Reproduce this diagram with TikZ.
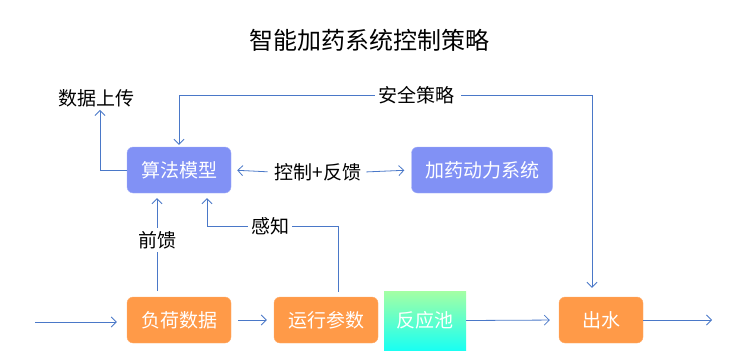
\documentclass[tikz,border=0pt]{standalone}
\usepackage{fontspec}
\setmainfont{Noto Sans CJK SC}
\usetikzlibrary{positioning,arrows.meta}
\definecolor{algoblue}{HTML}{8191F5}
\definecolor{loadorange}{HTML}{FF9A48}
\definecolor{linkblue}{HTML}{4A78C8}
\definecolor{poolgreen}{HTML}{A4FFA4}
\definecolor{poolcyan}{HTML}{1AFFF2}

\begin{document}
\begin{tikzpicture}[x=1pt,y=-1pt]
    \tikzset{
        algobox/.style={fill=algoblue, draw=algoblue!70!white, rounded corners=6pt, text=white,
            minimum height=46pt, font=\fontsize{19}{23}\selectfont},
        loadbox/.style={fill=loadorange, draw=loadorange!80!white, rounded corners=6pt, text=white,
            minimum height=46pt, font=\fontsize{19}{23}\selectfont},
        tag/.style={font=\fontsize{19}{23}\selectfont, inner sep=3pt},
        flow/.style={linkblue, thick, -{Straight Barb[length=5pt,width=10pt]}},
        plain/.style={linkblue, thick}
    }
    \useasboundingbox (0,0) rectangle (741,359);

    \node[font=\fontsize{24}{29}\selectfont] (title) at (369,40) {智能加药系统控制策略};

    % upper row
    \node[algobox, minimum width=104pt] (algo) at (179,170) {算法模型};
    \node[algobox, minimum width=141pt] (pump) at (482,170) {加药动力系统};
    \node[tag] (ctrl) at (318,172) {控制+反馈};
    \node[tag] (safe) at (416,95) {安全策略};
    \node[tag] (upload) at (96,98) {数据上传};

    % lower row
    \node[loadbox, minimum width=104pt] (load) at (179,320) {负荷数据};
    \node[loadbox, minimum width=104pt] (run) at (326,320) {运行参数};
    \node[top color=poolgreen, bottom color=poolcyan, text=white, minimum width=82pt,
        minimum height=59pt, font=\fontsize{19}{23}\selectfont] (pool) at (425,320.5) {反应池};
    \node[loadbox, minimum width=84pt] (out) at (601,320) {出水};
    \node[tag, fill=white] (ff) at (157,240) {前馈};
    \node[tag, fill=white] (sense) at (270,226) {感知};

    \coordinate (in) at (35,322);
    \coordinate (end) at (712,320);

    \draw[flow, shorten >=10pt] (in) -- (load.west |- in);
    \draw[flow, shorten <=7pt, shorten >=7pt] (load.east) -- (run.west);
    \draw[flow, shorten >=9pt] (pool.east) -- (out.west);
    \draw[flow] (out.east) -- (end);

    \draw[flow, shorten <=4pt, shorten >=6pt] (ctrl.west) -- (algo.east);
    \draw[flow, shorten <=2pt, shorten >=7pt] (ctrl.east) -- (pump.west);
    \draw[flow] (algo.west) -| ([xshift=4pt]upload.south);
    \draw[flow, shorten >=2pt] (safe.west) -| (algo.north);
    \draw[flow, shorten <=4pt, shorten >=9pt] (safe.east) -| ([xshift=-9pt]out.north);

    \draw[plain, shorten <=6pt] ([xshift=-22pt]load.north) -- (ff.south);
    \draw[flow, shorten >=5pt] (ff.north) -- ([xshift=-22pt]algo.south);
    \draw[plain, shorten <=5pt] ([xshift=12pt]run.north) |- (sense.east);
    \draw[flow, shorten >=5pt] (sense.west) -| ([xshift=28pt]algo.south);

\end{tikzpicture}
\end{document}
